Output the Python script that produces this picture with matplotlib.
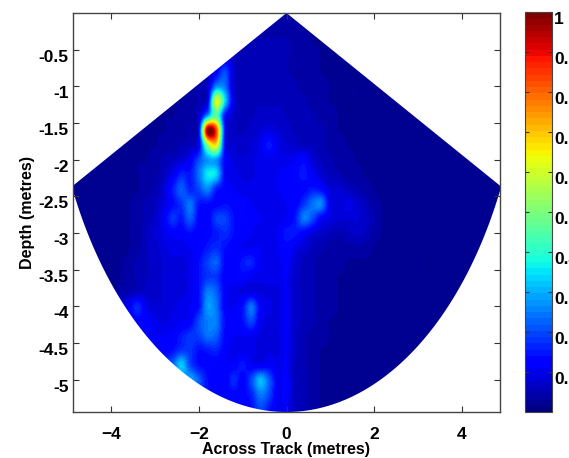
import numpy as np
from matplotlib import pyplot as plt
from matplotlib.patches import Polygon

plt.rcParams['font.family'] = ['Liberation Sans', 'DejaVu Sans']
plt.rcParams['font.weight'] = 'bold'

# grid of the sonar image, metres
across = np.arange(49) * 0.2 - 4.8
depth = np.arange(28) * -0.2

# intensity in percent of full scale, one row per depth
intensity = [
    [2,2,2,2,2, 2,2,2,2,2, 2,2,2,2,2, 2,2,2,2,2, 2,2,2,3,3, 3,2,2,2,2, 2,2,2,2,2, 2,2,2,2,2, 2,2,2,2,2, 2,2,2,2],
    [2,2,2,2,2, 2,2,2,2,2, 2,2,2,2,2, 2,2,2,2,2, 2,3,4,4,4, 4,3,3,2,2, 2,2,2,2,2, 2,2,2,2,2, 2,2,2,2,2, 2,2,2,2],
    [2,2,2,2,2, 2,2,2,2,2, 2,2,2,2,2, 2,2,3,4,4, 5,5,5,5,5, 4,4,3,3,3, 3,2,2,2,2, 2,2,2,2,2, 2,2,2,2,2, 2,2,2,2],
    [2,2,2,2,2, 2,2,2,2,2, 2,2,2,2,2, 3,8,9,6,5, 5,5,5,6,5, 4,4,4,3,3, 3,3,2,2,2, 2,2,2,2,2, 2,2,2,2,2, 2,2,2,2],
    [2,2,2,2,2, 2,2,2,2,2, 2,2,2,2,2, 5,12,20,7,5, 5,6,6,6,5, 4,4,4,3,3, 3,3,2,2,2, 2,2,2,2,2, 2,2,2,2,2, 2,2,2,2],
    [2,2,2,2,2, 2,2,2,2,2, 2,2,3,3,5, 7,26,24,7,5, 5,6,6,6,6, 5,4,4,4,3, 3,3,3,2,2, 2,2,2,2,2, 2,2,2,2,2, 2,2,2,2],
    [2,2,2,2,2, 2,2,2,2,2, 2,3,3,4,5, 10,62,34,9,6, 6,6,6,6,6, 5,5,4,4,3, 3,3,3,2,2, 2,2,2,2,2, 2,2,2,2,2, 2,2,2,2],
    [2,2,2,2,2, 2,2,2,2,2, 3,3,4,4,7, 28,46,14,7,6, 6,7,7,7,6, 5,5,5,4,4, 3,3,3,3,2, 2,2,2,2,2, 2,2,2,2,2, 2,2,2,2],
    [2,2,2,2,2, 2,2,2,2,3, 3,4,4,5,12, 98,84,14,7,6, 7,8,9,8,7, 6,6,5,5,4, 3,3,3,3,2, 2,2,2,2,2, 2,2,2,2,2, 2,2,2,2],
    [2,2,2,2,2, 2,2,2,3,3, 4,4,5,6,11, 52,66,12,8,7, 8,10,15,10,8, 7,6,6,5,4, 4,3,3,3,2, 2,2,2,2,2, 2,2,2,2,2, 2,2,2,2],
    [2,2,2,2,2, 2,2,3,3,4, 5,6,8,11,20, 28,28,13,9,8, 9,10,10,10,10, 11,13,8,6,5, 4,4,3,3,3, 2,2,2,2,2, 2,2,2,2,2, 2,2,2,2],
    [2,2,2,2,2, 2,2,3,4,4, 6,10,16,15,24, 36,34,12,10,9, 9,10,10,11,12, 13,15,11,8,6, 5,4,4,3,3, 2,2,2,2,2, 2,2,2,2,2, 2,2,2,2],
    [2,2,2,2,2, 2,2,3,4,5, 8,15,22,16,20, 26,16,13,11,10, 10,10,10,11,12, 12,13,15,13,8, 8,6,5,4,3, 2,2,2,2,2, 2,2,2,2,2, 2,2,2,2],
    [2,2,2,2,2, 2,3,4,5,6, 9,13,18,24,15, 14,13,14,13,12, 11,10,10,10,11, 12,18,24,26,10, 8,10,8,6,4, 3,2,2,2,2, 2,2,2,2,2, 2,2,2,2],
    [2,2,2,2,2, 2,3,4,5,7, 11,18,15,22,13, 12,19,19,14,13, 12,11,10,10,11, 15,25,20,12,9, 8,8,8,7,5, 3,3,2,2,2, 2,2,2,2,2, 2,2,2,2],
    [2,2,2,2,2, 2,3,4,6,8, 10,12,12,14,12, 13,15,17,14,12, 11,10,10,11,15, 15,12,9,7,6, 5,6,7,6,4, 3,3,3,2,2, 2,2,2,2,2, 2,2,2,2],
    [2,2,2,2,2, 2,3,4,6,7, 9,10,10,11,12, 15,17,14,12,11, 11,11,10,11,13, 10,8,6,5,4, 4,4,4,4,3, 3,3,3,3,2, 2,2,2,2,2, 2,2,2,2],
    [2,2,2,2,2, 3,4,5,6,7, 8,9,9,10,14, 19,22,13,11,15, 16,11,10,10,12, 8,6,5,4,4, 4,3,3,3,3, 3,3,3,3,3, 2,2,2,2,2, 2,2,2,2],
    [2,2,2,2,2, 3,4,5,6,7, 8,8,9,10,14, 18,18,12,12,13, 11,10,10,10,11, 7,6,5,4,4, 3,3,3,3,3, 3,3,3,3,3, 2,2,2,2,2, 2,2,2,2],
    [2,2,2,3,3, 4,5,6,7,7, 8,8,9,10,14, 25,22,12,10,9, 9,9,9,9,11, 7,6,5,4,4, 3,3,3,3,3, 3,3,3,3,3, 3,2,2,2,2, 2,2,2,2],
    [2,2,3,4,5, 8,11,17,10,8, 8,9,10,11,14, 28,24,12,11,14, 24,12,10,9,11, 7,6,5,4,4, 3,3,3,3,3, 3,3,3,3,3, 3,2,2,2,2, 2,2,2,2],
    [2,2,4,6,7, 8,10,12,12,10, 9,10,11,12,20, 25,25,14,12,14, 20,11,9,9,11, 7,6,5,4,3, 3,3,3,3,3, 3,3,3,3,3, 3,2,2,2,2, 2,2,2,2],
    [2,4,6,7,8, 8,8,10,12,11, 11,12,15,18,19, 24,22,13,11,11, 11,9,9,9,11, 7,5,4,4,3, 3,3,3,3,3, 3,3,3,3,3, 3,2,2,2,2, 2,2,2,2],
    [4,6,8,8,8, 8,8,10,11,11, 12,14,18,18,14, 15,16,12,10,10, 10,9,9,9,11, 7,5,4,3,3, 3,3,3,3,3, 3,3,3,3,3, 3,2,2,2,2, 2,2,2,2],
    [6,8,8,8,8, 8,8,10,12,14, 18,22,33,20,14, 13,12,11,12,15, 11,11,12,10,11, 6,5,4,3,3, 3,3,3,3,3, 3,3,3,3,3, 3,2,2,2,2, 2,2,2,2],
    [6,8,8,8,8, 8,8,10,12,14, 16,20,24,29,22, 14,12,12,17,12, 20,31,22,11,12, 6,5,4,3,3, 3,3,3,3,3, 3,3,3,3,3, 3,2,2,2,2, 2,2,2,2],
    [6,8,8,8,8, 8,8,10,12,13, 14,18,20,22,18, 14,12,12,13,13, 16,25,20,11,12, 6,5,4,3,3, 3,3,3,3,3, 3,3,3,3,3, 3,2,2,2,2, 2,2,2,2],
    [6,8,8,8,8, 8,8,10,12,13, 14,16,16,16,16, 13,12,12,12,12, 14,20,15,10,11, 6,5,4,3,3, 3,3,3,3,3, 3,3,3,3,3, 3,2,2,2,2, 2,2,2,2],
]

xticks = [-4, -2, 0, 2, 4]
yticks = [-5, -4.5, -4, -3.5, -3, -2.5, -2, -1.5, -1, -0.5]
yticklabels = ['-5', '-4.5', '-4', '-3.5', '-3', '-2.5', '-2', '-1.5', '-1', '-0.5']
cbticks = [0.1, 0.2, 0.3, 0.4, 0.5, 0.6, 0.7, 0.8, 0.9, 1]
cblabels = ['0.1', '0.2', '0.3', '0.4', '0.5', '0.6', '0.7', '0.8', '0.9', '1']

max_range = 5.44
half_angle = np.radians(64.2)

W, H = 569.0, 458.0
fig = plt.figure(figsize=(5.69, 4.58), dpi=100)
ax = fig.add_axes([73 / W, 1 - 412 / H, 427 / W, 399 / H])
cax = fig.add_axes([525 / W, 1 - 412 / H, 26.5 / W, 400 / H])

im = ax.imshow(np.array(intensity) / 100.0, cmap=plt.get_cmap('jet', 64), vmin=0, vmax=1,
               extent=[across[0] - 0.1, across[-1] + 0.1, depth[-1] - 0.1, depth[0] + 0.1],
               origin='upper', aspect='auto', interpolation='catrom')

# only the swath is drawn
angles = np.linspace(-half_angle, half_angle, 200)
outline = np.column_stack([max_range * np.sin(angles), -max_range * np.cos(angles)])
outline = np.vstack([[0, 0], outline])
swath = Polygon(outline, closed=True, transform=ax.transData, fc='none', ec='none')
ax.add_patch(swath)
im.set_clip_path(swath)

ax.set_xlim(-4.87, 4.87)
ax.set_ylim(-5.44, 0)
ax.set_xticks(xticks)
ax.set_yticks(yticks)
ax.set_yticklabels(yticklabels)
ax.tick_params(direction='in', top=True, right=True, length=4, width=0.8, color='#333333', labelsize=12.5)
ax.tick_params(axis='x', pad=10.5)
ax.tick_params(axis='y', pad=3)
plt.setp(ax.get_yticklabels(), va='top')
for s in ax.spines.values():
    s.set_color('#444444')
    s.set_linewidth(1.0)
ax.set_xlabel('Across Track (metres)', fontsize=11.5, fontweight='bold', labelpad=0)
ax.set_ylabel('Depth (metres)', fontsize=11.5, fontweight='bold', labelpad=3)

cb = fig.colorbar(im, cax=cax)
cb.set_ticks(cbticks)
cb.set_ticklabels(cblabels)
cax.tick_params(direction='in', left=True, right=True, length=3, width=0.8, color='#333333', labelsize=12.5, pad=2)
plt.setp(cax.get_yticklabels(), va='top')
cb.outline.set_edgecolor('#444444')

fig.savefig('out.png', dpi=100)
